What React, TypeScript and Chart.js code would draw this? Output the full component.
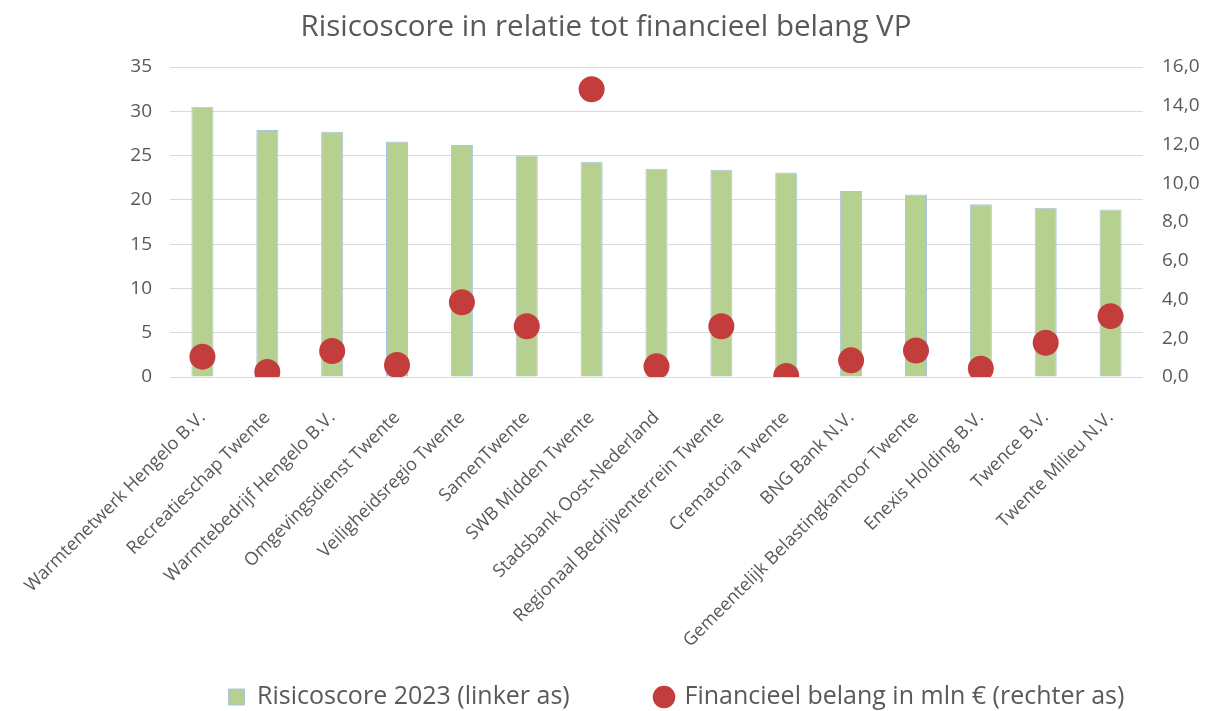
import React, { useEffect, useRef } from "react";
import { Chart, registerables } from "chart.js";

Chart.register(...registerables);

const categories = [
  "Warmtenetwerk Hengelo B.V.",
  "Recreatieschap Twente",
  "Warmtebedrijf Hengelo B.V.",
  "Omgevingsdienst Twente",
  "Veiligheidsregio Twente",
  "SamenTwente",
  "SWB Midden Twente",
  "Stadsbank Oost-Nederland",
  "Regionaal Bedrijventerrein Twente",
  "Crematoria Twente",
  "BNG Bank N.V.",
  "Gemeentelijk Belastingkantoor Twente",
  "Enexis Holding B.V.",
  "Twence B.V.",
  "Twente Milieu N.V.",
];

const risicoscore = [30.5, 27.9, 27.7, 26.6, 26.2, 25.0, 24.3, 23.5, 23.4, 23.1, 21.0, 20.6, 19.5, 19.1, 18.9];
const financieelBelang = [1.05, 0.26, 1.34, 0.62, 3.86, 2.62, 14.85, 0.55, 2.62, 0.05, 0.86, 1.37, 0.43, 1.77, 3.14];

const seriesLabels = ["Risicoscore 2023 (linker as)", "Financieel belang in mln € (rechter as)"];
const leftTicks = { min: 0, max: 35, step: 5 };
const rightTicks = { min: 0, max: 16, step: 2 };

const FONT = "'Open Sans', sans-serif";
const GREY = "#595959";
const LEGEND_SIZE = 25;

export default function App() {
  const ref = useRef<HTMLCanvasElement>(null);
  useEffect(() => {
    document.body.style.margin = "0";
    const ctx = ref.current!.getContext("2d")!;

    // legend spacing: first item text starts at ~257, second marker centre at ~664
    ctx.font = `${LEGEND_SIZE}px ${FONT}`;
    const w1 = ctx.measureText(seriesLabels[0]).width;
    const boxW = 16;
    const itemStart = 257 - boxW - LEGEND_SIZE / 2;
    const legendPad = Math.max(10, 664 - boxW / 2 - (itemStart + boxW + LEGEND_SIZE / 2 + w1));
    const legendMaxH = 40;
    const xAxisHeight = 711 - legendMaxH - 377;

    const legendShift = {
      id: "legendShift",
      afterLayout(chart: any) {
        const lg = chart.legend;
        if (!lg) return;
        lg.left = itemStart - legendPad;
        lg.top = 697 - LEGEND_SIZE / 2 - legendPad;
      },
    };

    const chart = new Chart(ctx, {
      type: "bar",
      data: {
        labels: categories,
        datasets: [
          {
            type: "bar",
            label: seriesLabels[0],
            data: risicoscore,
            backgroundColor: "#b5d08f",
            borderColor: "#a9c4e3",
            borderWidth: 1,
            categoryPercentage: 1,
            barPercentage: 0.34,
            yAxisID: "y",
            order: 2,
            pointStyle: "rect",
          } as any,
          {
            type: "line",
            label: seriesLabels[1],
            data: financieelBelang,
            showLine: false,
            pointRadius: 13,
            pointHoverRadius: 13,
            pointBackgroundColor: "#c43d3d",
            pointBorderWidth: 0,
            backgroundColor: "#c43d3d",
            borderColor: "#c43d3d",
            borderWidth: 0,
            yAxisID: "y1",
            order: 1,
            pointStyle: "circle",
          } as any,
        ],
      },
      plugins: [legendShift],
      options: {
        animation: false,
        responsive: false,
        maintainAspectRatio: false,
        layout: { padding: 0 },
        plugins: {
          title: {
            display: true,
            text: "Risicoscore in relatie tot financieel belang VP",
            color: GREY,
            font: { family: FONT, size: 29.5, weight: "normal" },
            padding: { top: 10, bottom: 21.6 },
          },
          legend: {
            position: "bottom",
            align: "start",
            maxHeight: legendMaxH,
            labels: {
              usePointStyle: true,
              boxWidth: boxW,
              boxHeight: 16,
              color: GREY,
              font: { family: FONT, size: LEGEND_SIZE },
              padding: legendPad,
              sort: (a: any, b: any) => a.datasetIndex - b.datasetIndex,
            },
          } as any,
          tooltip: { enabled: false },
        },
        scales: {
          x: {
            offset: true,
            grid: { display: false },
            border: { display: false },
            ticks: {
              color: GREY,
              font: { family: FONT, size: 18 },
              minRotation: 45,
              maxRotation: 45,
              autoSkip: false,
              padding: 22,
            },
            afterFit: (scale: any) => {
              scale.height = xAxisHeight;
              scale.paddingLeft = 0;
              scale.paddingRight = 0;
            },
          },
          y: {
            position: "left",
            min: leftTicks.min,
            max: leftTicks.max,
            grid: { color: "#d9d9d9", drawTicks: false },
            border: { display: false },
            ticks: {
              stepSize: leftTicks.step,
              color: GREY,
              font: { family: FONT, size: 19 },
              padding: 18,
            },
            afterFit: (scale: any) => {
              scale.width = 170;
            },
          },
          y1: {
            position: "right",
            min: rightTicks.min,
            max: rightTicks.max,
            grid: { display: false, drawTicks: false },
            border: { display: false },
            ticks: {
              stepSize: rightTicks.step,
              color: GREY,
              font: { family: FONT, size: 19 },
              padding: 19,
              callback: (v: any) => Number(v).toFixed(1).replace(".", ","),
            },
            afterFit: (scale: any) => {
              scale.width = 69;
            },
          },
        },
      },
    });
    return () => chart.destroy();
  }, []);
  return (
    <div style={{ position: "absolute", left: 0, top: 0, width: 1212, height: 711 }}>
      <canvas ref={ref} width={1212} height={711} />
    </div>
  );
}
